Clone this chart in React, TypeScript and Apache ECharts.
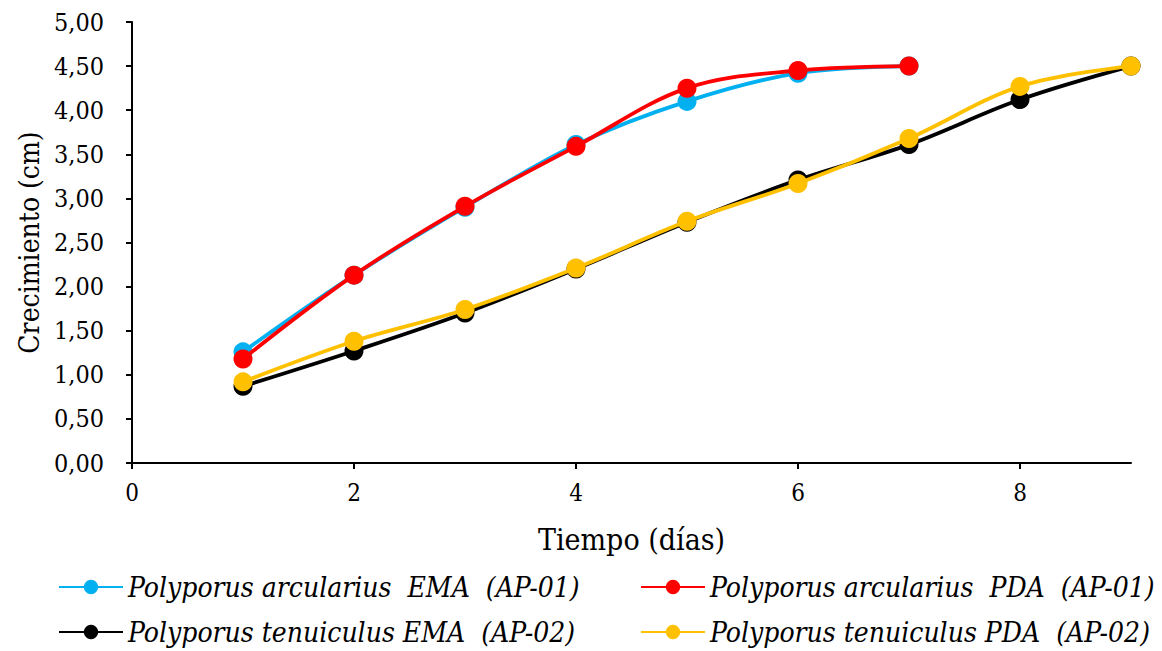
import React, { useEffect, useRef } from "react";
import * as echarts from "echarts";

const days = [1, 2, 3, 4, 5, 6, 7, 8, 9];
const arcEMA = [1.26, 2.13, 2.9, 3.61, 4.1, 4.42, 4.5];
const arcPDA = [1.18, 2.13, 2.91, 3.59, 4.25, 4.45, 4.5];
const tenEMA = [0.87, 1.27, 1.7, 2.2, 2.73, 3.21, 3.61, 4.12, 4.5];
const tenPDA = [0.92, 1.38, 1.74, 2.21, 2.74, 3.17, 3.68, 4.27, 4.5];
const seriesNames = [
  "Polyporus arcularius  EMA  (AP-01)",
  "Polyporus arcularius  PDA  (AP-01)",
  "Polyporus tenuiculus EMA  (AP-02)",
  "Polyporus tenuiculus PDA  (AP-02)",
];
const colors = ["#00B0F0", "#FF0000", "#000000", "#FFC000"];
const xTicks = [0, 2, 4, 6, 8];

const FONT = "DejaVu Serif Condensed, DejaVu Serif, serif";

export default function App() {
  const ref = useRef<HTMLDivElement>(null);
  useEffect(() => {
    if (!ref.current) return;
    const chart = echarts.init(ref.current, null, { renderer: "svg" });
    const allData = [arcEMA, arcPDA, tenEMA, tenPDA];
    const legendPos = [
      { left: 58, top: 573 },
      { left: 640, top: 573 },
      { left: 58, top: 618 },
      { left: 640, top: 618 },
    ];
    chart.setOption({
      animation: false,
      textStyle: { fontFamily: FONT },
      grid: { left: 132, right: 31, top: 22, bottom: 188, containLabel: false },
      legend: seriesNames.map((n, i) => ({
        data: [n],
        left: legendPos[i].left,
        top: legendPos[i].top,
        itemWidth: 64,
        itemHeight: 18,
        itemGap: 0,
        padding: 0,
        textStyle: {
          fontFamily: FONT,
          fontStyle: "italic",
          fontSize: 28,
          color: "#000",
        },
      })),
      xAxis: {
        type: "value",
        min: 0,
        max: 9,
        interval: 2,
        name: "Tiempo (días)",
        nameLocation: "middle",
        nameGap: 61,
        nameTextStyle: { fontFamily: FONT, fontSize: 30, color: "#000" },
        axisLine: { lineStyle: { color: "#000", width: 2 } },
        axisTick: { show: true, length: 6, lineStyle: { color: "#000", width: 2 }, customValues: xTicks },
        axisLabel: { fontFamily: FONT, fontSize: 24, color: "#000", margin: 18, customValues: xTicks },
        splitLine: { show: false },
      },
      yAxis: {
        type: "value",
        min: 0,
        max: 5,
        interval: 0.5,
        name: "Crecimiento (cm)",
        nameLocation: "middle",
        nameGap: 83,
        nameTextStyle: { fontFamily: FONT, fontSize: 28, color: "#000" },
        axisLine: { show: true, lineStyle: { color: "#000", width: 2 } },
        axisTick: { show: true, length: 6, lineStyle: { color: "#000", width: 2 } },
        axisLabel: {
          fontFamily: FONT,
          fontSize: 25,
          color: "#000",
          margin: 28,
          formatter: (v: number) => v.toFixed(2).replace(".", ","),
        },
        splitLine: { show: false },
      },
      series: allData.map((d, i) => ({
        name: seriesNames[i],
        type: "line",
        smooth: 0.35,
        symbol: "circle",
        symbolSize: 19,
        data: d.map((v, j) => [days[j], v]),
        itemStyle: { color: colors[i] },
        lineStyle: { color: colors[i], width: 3.8 },
        z: 2 + i,
      })),
    });
    return () => chart.dispose();
  }, []);
  return (
    <div
      ref={ref}
      style={{ position: "fixed", left: 0, top: 0, width: 1162, height: 651, background: "#fff" }}
    />
  );
}
